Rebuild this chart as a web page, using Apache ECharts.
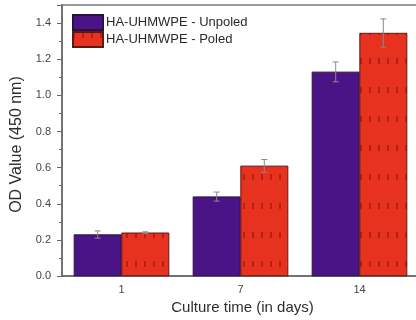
<!DOCTYPE html>
<html>
<head>
<meta charset="utf-8">
<script src="https://cdn.jsdelivr.net/npm/echarts@6/dist/echarts.min.js"></script>
<style>
  html, body { margin: 0; padding: 0; background: #fff; overflow: hidden; }
  #wrap { width: 416px; height: 320px; overflow: hidden; }
  #chart { width: 426px; height: 320px; }
</style>
</head>
<body>
<div id="wrap"><div id="chart"></div></div>
<script>
// Culture time points (days)
const days = ['1', '7', '14'];
// Mean optical density at 450 nm and standard deviations
const unpoled = [0.23, 0.44, 1.13];
const unpoledErr = [0.02, 0.025, 0.055];
const poled = [0.24, 0.61, 1.345];
const poledErr = [0.005, 0.035, 0.078];
const seriesNames = ['HA-UHMWPE - Unpoled', 'HA-UHMWPE - Poled'];

const FONT = 'Liberation Sans, Arial, sans-serif';
const PURPLE = '#4a1486';
const RED = '#e6321f';

// Plain fill for the unpoled bars
const plainDecal = { symbol: 'rect', symbolSize: 0, color: 'rgba(0,0,0,0)' };
// Short dark dashes printed over the poled bars
const poledDecal = {
  symbol: 'rect',
  symbolSize: 1,
  dashArrayX: [1.5, 6.8],
  dashArrayY: [6, 23],
  color: 'rgba(120, 15, 5, 0.45)'
};

const chart = echarts.init(document.getElementById('chart'), null, { renderer: 'canvas' });

// Error bars drawn on top of each bar: side = -1 for the left bar, +1 for the right bar
function errorBars(values, errs, side) {
  return {
    type: 'custom',
    z: 5,
    silent: true,
    data: values.map((v, i) => [i, v, errs[i]]),
    renderItem: function (params, api) {
      const i = api.value(0);
      const v = api.value(1);
      const e = api.value(2);
      const band = api.size([1, 0])[0];
      const dx = side * band * 0.8 / 4;
      const top = api.coord([i, v + e]);
      const bot = api.coord([i, v - e]);
      const x = top[0] + dx;
      const cap = 3;
      const style = { stroke: '#8a8a8a', lineWidth: 1 };
      return {
        type: 'group',
        children: [
          { type: 'line', shape: { x1: x, y1: top[1], x2: x, y2: bot[1] }, style: style },
          { type: 'line', shape: { x1: x - cap, y1: top[1], x2: x + cap, y2: top[1] }, style: style },
          { type: 'line', shape: { x1: x - cap, y1: bot[1], x2: x + cap, y2: bot[1] }, style: style }
        ]
      };
    }
  };
}

chart.setOption({
  animation: false,
  aria: { enabled: true, decal: { show: true, decals: [plainDecal, poledDecal] } },
  textStyle: { fontFamily: FONT },
  grid: {
    left: 62, top: 5, width: 357, height: 273,
    show: true, borderColor: '#7a7a7a', borderWidth: 1.5, backgroundColor: 'transparent'
  },
  legend: {
    orient: 'vertical',
    left: 67, top: 9,
    itemWidth: 30, itemHeight: 15, itemGap: 0,
    icon: 'rect',
    data: seriesNames,
    textStyle: { fontSize: 13, color: '#2a2a2a', fontFamily: FONT, padding: [0, 0, 0, -2] }
  },
  xAxis: {
    type: 'category',
    data: days,
    name: 'Culture time (in days)',
    nameLocation: 'middle',
    nameGap: 23,
    nameTextStyle: { fontSize: 15, color: '#2e2e2e', fontFamily: FONT, padding: [0, 0, 0, 4] },
    axisLine: { lineStyle: { color: '#666', width: 1.5 } },
    axisTick: { alignWithLabel: true, length: 4, lineStyle: { color: '#666' } },
    axisLabel: { fontSize: 11, color: '#444', margin: 8, fontFamily: FONT }
  },
  yAxis: {
    type: 'value',
    min: 0, max: 1.5, interval: 0.2,
    name: 'OD Value (450 nm)',
    nameLocation: 'middle',
    nameGap: 33,
    nameTextStyle: { fontSize: 16, color: '#2e2e2e', fontFamily: FONT, padding: [0, 8, 0, 0] },
    axisLine: { show: true, lineStyle: { color: '#666', width: 1.5 } },
    axisTick: { show: true, length: 5, lineStyle: { color: '#666' } },
    minorTick: { show: true, splitNumber: 2, length: 3, lineStyle: { color: '#666' } },
    splitLine: { show: false },
    axisLabel: {
      fontSize: 11, color: '#444', margin: 11, fontFamily: FONT, showMaxLabel: false,
      formatter: v => v.toFixed(1)
    }
  },
  series: [
    {
      name: seriesNames[0],
      type: 'bar',
      data: unpoled,
      barGap: '0%',
      barCategoryGap: '20%',
      itemStyle: { color: PURPLE, borderColor: '#2a1040', borderWidth: 0.6, decal: plainDecal }
    },
    {
      name: seriesNames[1],
      type: 'bar',
      data: poled,
      barGap: '0%',
      barCategoryGap: '20%',
      itemStyle: { color: RED, borderColor: '#5a1a10', borderWidth: 0.6, decal: poledDecal }
    },
    errorBars(unpoled, unpoledErr, -1),
    errorBars(poled, poledErr, 1)
  ]
});
</script>
</body>
</html>
